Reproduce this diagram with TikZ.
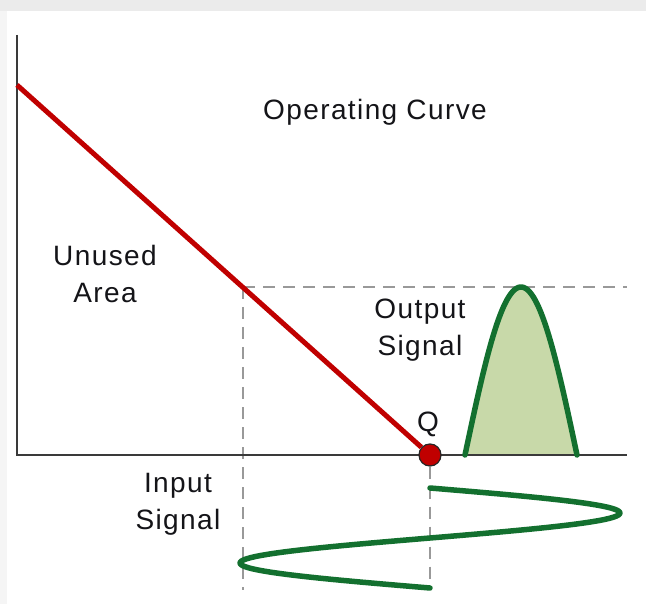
\documentclass[tikz,border=0pt]{standalone}
\usepackage{fontspec}
\setmainfont{Liberation Sans}
\definecolor{axisgray}{HTML}{3A3A3A}
\definecolor{dashgray}{HTML}{999999}
\definecolor{curvered}{HTML}{C00000}
\definecolor{sigGreen}{HTML}{13702F}
\definecolor{sigFill}{HTML}{C8D9A9}
\definecolor{txt}{HTML}{141418}
\begin{document}
\begin{tikzpicture}[x=1pt,y=-1pt,
  axisline/.style={draw=axisgray,line width=2.5pt},
  dashline/.style={draw=dashgray,line width=2.5pt,dash pattern=on 12pt off 8pt},
  opcurve/.style={draw=curvered,line width=5pt},
  sigline/.style={draw=sigGreen,line width=5.5pt,line cap=round,line join=round},
  lbl/.style={text=txt,font=\fontsize{28}{37}\selectfont\addfontfeature{LetterSpace=5},align=center,inner sep=0pt}]
\useasboundingbox (0,0) rectangle (646,604);
\fill[black!4] (0,0) rectangle (646,604);
\fill[black!8] (0,0) rectangle (646,11);
\fill[white] (7,11) rectangle (646,604);
% coordinates
\coordinate (ytop) at (17,35);
\coordinate (org) at (17,455);
\coordinate (xend) at (627,455);
\coordinate (cstart) at (17,85);
\coordinate (knee) at (243,287);
\coordinate (hend) at (627,287);
\coordinate (vlow) at (243,590);
\coordinate (qlow) at (430,588);
% output signal fill
\fill[sigFill] plot[domain=0:180,samples=60] ({465+0.62222*\x},{455-168*sin(\x)}) -- cycle;
% dashed guides
\draw[dashline] (knee) -- (hend);
\draw[dashline] (knee) -- (vlow);
% axes
\draw[axisline] (ytop) -- (org) -- (xend);
% Q point
\node[circle,fill=curvered,draw=black!85,line width=1.2pt,minimum size=22pt,inner sep=0pt] (q) at (430,455) {};
\draw[dashline] (q.south) -- (qlow);
\draw[opcurve] (cstart) -- (q);
% output curve
\draw[sigline] plot[domain=0:180,samples=60] ({465+0.62222*\x},{455-168*sin(\x)});
% input signal
\draw[sigline] plot[domain=0:360,samples=90] ({430+190*sin(\x)},{488+\x/3.6});
% labels
\node[lbl] (tcurve) at (375,112) {Operating Curve};
\node[lbl] (tunused) at (105,274) {Unused\\Area};
\node[lbl] (toutput) at (420,330) {Output\\Signal};
\node[lbl] (tinput) at (178,504) {Input\\Signal};
\node[lbl] (tq) at (428,424) {Q};
\end{tikzpicture}
\end{document}
